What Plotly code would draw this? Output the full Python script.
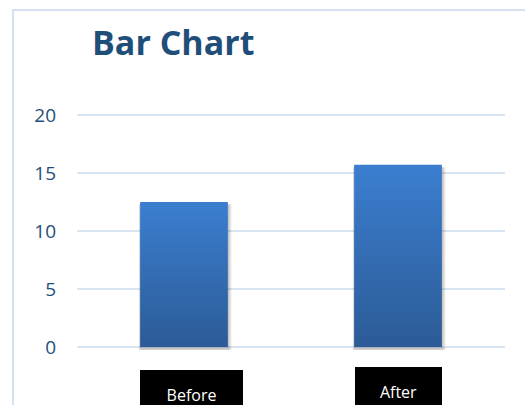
import plotly.graph_objects as go

categories = ["Before", "After"]
values = [12.5, 15.7]
y_ticks = [0, 5, 10, 15, 20]

W, H = 525, 405
L, R, T, B = 77, 20, 112, 55
pw, ph = W - L - R, H - T - B
y_lo, y_hi = -0.25, 20.25

bar_w = 0.41
fig = go.Figure()
for i, (cat, v) in enumerate(zip(categories, values)):
    x0, x1 = i - bar_w / 2, i + bar_w / 2
    # soft shadow
    for k, a in [(0.018, 0.06), (0.012, 0.08), (0.007, 0.10)]:
        fig.add_trace(go.Scatter(
            x=[x0 - k / 3, x1 + k, x1 + k, x0 - k / 3, x0 - k / 3],
            y=[-k * 30, -k * 30, v - 0.2, v - 0.2, -k * 30],
            fill="toself", mode="lines", line=dict(width=0),
            fillcolor=f"rgba(0,0,0,{a})", showlegend=False, hoverinfo="skip"))
    fig.add_trace(go.Scatter(
        x=[x0, x1, x1, x0, x0], y=[0, 0, v, v, 0],
        fill="toself", mode="lines", line=dict(width=0),
        fillgradient=dict(type="vertical",
                          colorscale=[[0, "#2C5B96"], [1, "#3B7ED0"]]),
        name=cat, showlegend=False, hoverinfo="skip"))

def px_x(p):
    return (p - L) / pw

def px_y(p):
    return (H - B - p) / ph

shapes = [dict(type="rect", xref="paper", yref="paper",
               x0=px_x(13), x1=px_x(540), y0=px_y(430), y1=px_y(10),
               line=dict(color="#D3E1F2", width=2), fillcolor="rgba(0,0,0,0)",
               layer="below")]

zero_px = H - B - (0 - y_lo) / (y_hi - y_lo) * ph

annotations = [
    dict(text="Bar Chart", xref="paper", yref="paper", x=px_x(90), y=px_y(42),
         xanchor="left", yanchor="middle", showarrow=False,
         font=dict(family="Open Sans", size=34, color="#1F4E79", weight="bold")),
]
shifts = [(7.5, 370, 103), (0, 367, 87)]
for i, cat in enumerate(categories):
    dx, top_px, bw = shifts[i]
    annotations.append(dict(
        text=cat, x=i, xref="x", y=px_y(top_px), yref="paper",
        xanchor="center", yanchor="top",
        xshift=dx, showarrow=False, width=bw, height=50,
        bgcolor="#000000", borderpad=0, borderwidth=0, valign="middle",
        font=dict(family="Open Sans", size=16, color="#FFFFFF")))

fig.update_layout(
    width=W, height=H, margin=dict(l=L, r=R, t=T, b=B),
    paper_bgcolor="white", plot_bgcolor="white",
    xaxis=dict(range=[-0.5, 1.5], showticklabels=False, showgrid=False,
               zeroline=False, fixedrange=True),
    yaxis=dict(range=[y_lo, y_hi], tickvals=y_ticks, ticktext=[str(t) for t in y_ticks],
               showgrid=True, gridcolor="#D9E4F2", gridwidth=2, zeroline=False,
               ticklabelstandoff=20, showline=False,
               tickfont=dict(family="Open Sans", size=19, color="#1F4E79")),
    shapes=shapes, annotations=annotations,
)

fig.write_html("out.html")
